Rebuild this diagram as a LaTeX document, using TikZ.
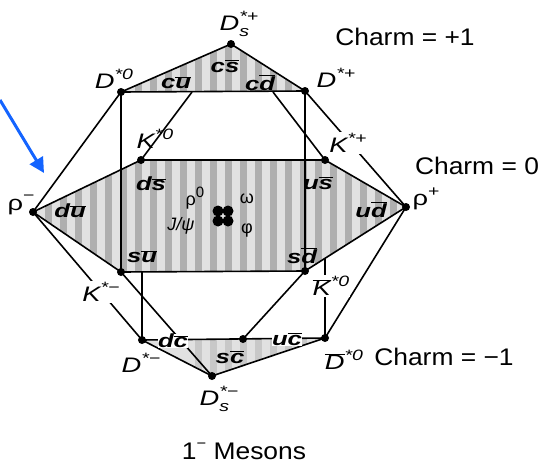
\documentclass[tikz,border=0pt]{standalone}
\usepackage{fontspec}
\setmainfont{Liberation Sans}
\usetikzlibrary{arrows.meta}
\definecolor{arrowblue}{RGB}{20,100,255}
\definecolor{stripeA}{RGB}{175,175,175}
\definecolor{stripeB}{RGB}{225,225,225}
\definecolor{stripeC}{RGB}{200,200,200}
\newcommand\sps[1]{\raisebox{0.45em}{\fontsize{15}{15}\selectfont #1}}
\newcommand\sbs[1]{\raisebox{-0.3em}{\fontsize{15}{15}\selectfont #1}}
\newcommand\ab[1]{\ensuremath{\overline{\mbox{#1}}}}
\newcommand\wide[2]{\scalebox{#1}[1]{#2}}
\tikzset{
  edge/.style={line width=1.6pt, black},
  vdot/.style={circle, fill=black, inner sep=0pt, minimum size=8pt},
  plabel/.style={font=\fontsize{21}{23}\selectfont\itshape, inner sep=1pt},
  qlabel/.style={font=\fontsize{19}{21}\selectfont\bfseries\itshape, inner sep=0.5pt},
  clabel/.style={font=\fontsize{24}{26}\selectfont, inner sep=1pt},
  smlabel/.style={font=\fontsize{18}{19}\selectfont, inner sep=0.5pt},
  wbg/.style={fill=white},
}
\begin{document}
\begin{tikzpicture}[x=1pt,y=-1pt]
\useasboundingbox (0,0) rectangle (544,466);
% vertices
\coordinate (Dsp) at (231,44);
\coordinate (D0) at (121,92);
\coordinate (Dp) at (305,91);
\coordinate (T1) at (192,92);
\coordinate (T2) at (273,92);
\coordinate (Ks0) at (141,160);
\coordinate (Ksp) at (325,160);
\coordinate (rhom) at (33,212);
\coordinate (rhop) at (406,207);
\coordinate (Ksm) at (121,272);
\coordinate (Kb0) at (305,271);
\coordinate (V1) at (142,272);
\coordinate (V2) at (325,258);
\coordinate (Dm) at (142,340);
\coordinate (Db0) at (325,338);
\coordinate (Dsm) at (212,376);
\coordinate (B1) at (243,339);
\coordinate (A0) at (0,100);
\coordinate (A1) at (44,173);
% shading
\begin{scope}
\clip (rhom) -- (Ks0) -- (Ksp) -- (rhop) -- (Kb0) -- (Ksm) -- cycle;
\fill[stripeB] (0,150) rectangle (420,280);
\foreach \x in {30,45,...,420} \fill[stripeA] (\x,150) rectangle ++(7,130);
\end{scope}
\begin{scope}
\clip (D0) -- (Dsp) -- (Dp) -- cycle;
\fill[stripeB] (100,40) rectangle (320,100);
\foreach \x in {120,135,...,320} \fill[stripeA] (\x,40) rectangle ++(7,60);
\end{scope}
\begin{scope}
\clip (Dm) -- (Dsm) -- (Db0) -- cycle;
\fill[stripeB] (130,330) rectangle (330,380);
\foreach \x in {195,210,...,330} \fill[stripeC] (\x,330) rectangle ++(7,50);
\end{scope}
% edges
\draw[edge] (Dsp) -- (D0);
\draw[edge] (Dsp) -- (Dp);
\draw[edge] (D0) -- (Dp);
\draw[edge] (D0) -- (rhom);
\draw[edge] (Dp) -- (rhop);
\draw[edge] (T1) -- (Ks0);
\draw[edge] (T2) -- (Ksp);
\draw[edge] (D0) -- (Ksm);
\draw[edge] (Dp) -- (Kb0);
\draw[edge] (rhom) -- (Ks0) -- (Ksp) -- (rhop) -- (Kb0) -- (Ksm) -- cycle;
\draw[edge] (rhom) -- (Dm);
\draw[edge] (rhop) -- (Db0);
\draw[edge] (Ksm) -- (Dsm);
\draw[edge] (Kb0) -- (B1);
\draw[edge] (V1) -- (Dm);
\draw[edge] (V2) -- (Db0);
\draw[edge] (Dm) -- (Db0);
\draw[edge] (Dm) -- (Dsm) -- (Db0);
% particle labels
\node[plabel] (lDsp) at (239,24) {\wide{1.3}{D\rlap{\sbs{s}}\sps{*+}}};
\node[plabel] (lD0) at (114,79) {\wide{1.3}{D\sps{*0}}};
\node[plabel] (lDp) at (336,78) {\wide{1.3}{D\sps{*+}}};
\node[plabel] (lKs0) at (155,139) {\wide{1.3}{K\sps{*0}}};
\node[plabel,wbg] (lKsp) at (348,143) {\wide{1.3}{K\sps{*+}}};
\node[plabel] (lrhom) at (21,205) {\upshape\wide{1.3}{ρ\sps{−}}};
\node[plabel] (lrhop) at (426,199) {\upshape\wide{1.3}{ρ\sps{+}}};
\node[plabel,wbg] (lKsm) at (101,292) {\wide{1.3}{K\sps{*−}}};
\node[plabel,wbg] (lKb0) at (331,286) {\wide{1.3}{\ab{K}\sps{*0}}};
\node[plabel] (lDm) at (141,363) {\wide{1.3}{D\sps{*−}}};
\node[plabel] (lDb0) at (344,360) {\wide{1.3}{\ab{D}\sps{*0}}};
\node[plabel] (lDsm) at (219,399) {\wide{1.3}{D\rlap{\sbs{s}}\sps{*−}}};
% charm labels
\node[clabel] (c1) at (405,37) {\wide{1.1}{Charm = +1}};
\node[clabel] (c0) at (477,166) {\wide{1.1}{Charm = 0}};
\node[clabel] (cm1) at (444,357) {\wide{1.1}{Charm = −1}};
\node[clabel] (mes) at (244,451) {\wide{1.1}{1\sps{−} Mesons}};
% quark labels
\node[qlabel] (qcu) at (176,83) {\wide{1.35}{c\ab{u}}};
\node[qlabel] (qcs) at (225,66) {\wide{1.35}{c\ab{s}}};
\node[qlabel] (qcd) at (260,83) {\wide{1.35}{c\ab{d}}};
\node[qlabel] (qdu) at (70,211) {\wide{1.35}{d\ab{u}}};
\node[qlabel] (qds) at (151,184) {\wide{1.35}{d\ab{s}}};
\node[qlabel] (qus) at (318,183) {\wide{1.35}{u\ab{s}}};
\node[qlabel] (qud) at (371,210) {\wide{1.35}{u\ab{d}}};
\node[qlabel] (qsu) at (142,257) {\wide{1.35}{s\ab{u}}};
\node[qlabel] (qsd) at (302,256) {\wide{1.35}{s\ab{d}}};
\node[qlabel,wbg] (qdc) at (173,341) {\wide{1.35}{d\ab{c}}};
\node[qlabel] (qsc) at (230,357) {\wide{1.35}{s\ab{c}}};
\node[qlabel,wbg] (quc) at (287,339) {\wide{1.35}{u\ab{c}}};
% centre
\node[smlabel] (rho0) at (195,198) {ρ\sps{0}};
\node[smlabel,font=\fontsize{18}{19}\selectfont\itshape] (jpsi) at (181,226) {J/ψ};
\node[smlabel] (omg) at (247,199) {ω};
\node[smlabel] (phi) at (247,231) {φ};
\foreach \dx/\dy in {-5/-5,5/-5,-5/5,5/5} \fill (223+\dx,216+\dy) circle (5.5pt);
% dots
\foreach \p in {Dsp,D0,Dp,Ks0,Ksp,rhom,rhop,Ksm,Kb0,Dm,Db0,Dsm,B1}
  \node[vdot] (dot\p) at (\p) {};
% arrow
\draw[arrowblue, line width=3pt, -{Triangle[length=15pt,width=15pt]}] (A0) -- (A1);
\end{tikzpicture}
\end{document}
